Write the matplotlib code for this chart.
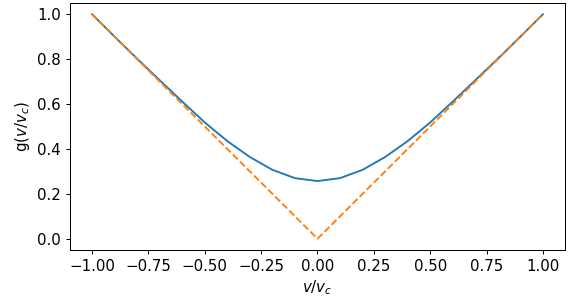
import matplotlib
matplotlib.use("Agg")
import matplotlib.pyplot as plt

# valeurs
v = [-1.0, -0.9, -0.8, -0.7, -0.6, -0.5, -0.4, -0.3, -0.2, -0.1, 0.0,
     0.1, 0.2, 0.3, 0.4, 0.5, 0.6, 0.7, 0.8, 0.9, 1.0]
g = [1.0, 0.900, 0.802, 0.706, 0.611, 0.518, 0.435, 0.364, 0.307, 0.270, 0.257,
     0.270, 0.307, 0.364, 0.435, 0.518, 0.611, 0.706, 0.802, 0.900, 1.0]

# limite |v/v_c|
v_abs = [-1.0, 0.0, 1.0]
g_abs = [1.0, 0.0, 1.0]

plt.rcParams['font.size'] = 12

fig, ax = plt.subplots(figsize=(570 / 90, 303 / 90), dpi=90)
fig.subplots_adjust(left=0.122, right=0.992, top=0.990, bottom=0.175)

ax.plot(v, g, color='C0', linewidth=1.5)
ax.plot(v_abs, g_abs, color='C1', linestyle='--', linewidth=1.5)

ax.set_xlabel('$v/v_c$')
ax.set_ylabel('g($v/v_c$)')
ax.set_xticks([-1.0, -0.75, -0.5, -0.25, 0.0, 0.25, 0.5, 0.75, 1.0])
ax.set_yticks([0.0, 0.2, 0.4, 0.6, 0.8, 1.0])

fig.savefig('out.png', dpi=90)
